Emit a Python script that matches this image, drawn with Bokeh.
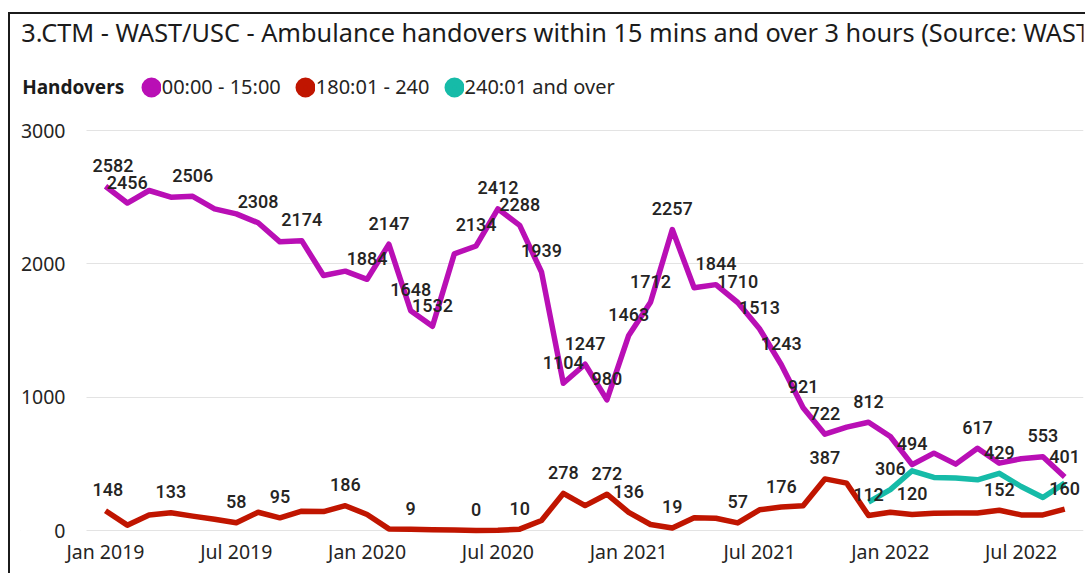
from bokeh.plotting import figure
from bokeh.models import (Range1d, FixedTicker, Legend, LegendItem, ColumnDataSource,
                          Label, BoxAnnotation)
from bokeh.embed import file_html
from bokeh.resources import INLINE
from bokeh.core.properties import value

NaN = float("nan")

# ---- data -------------------------------------------------------------
month_index = list(range(45))  # Jan 2019 .. Sep 2022

tick_positions = [0, 6, 12, 18, 24, 30, 36, 42]
tick_labels = ["Jan 2019", "Jul 2019", "Jan 2020", "Jul 2020",
               "Jan 2021", "Jul 2021", "Jan 2022", "Jul 2022"]
y_ticks = [0, 1000, 2000, 3000]

series_names = ["00:00 - 15:00", "180:01 - 240", "240:01 and over"]

within_15 = [2582, 2456, 2550, 2500, 2506, 2412, 2375, 2308, 2165, 2174,
             1912, 1945, 1884, 2147, 1648, 1532, 2075, 2134, 2412, 2288,
             1939, 1104, 1247, 980, 1463, 1712, 2257, 1820, 1844, 1710,
             1513, 1243, 921, 722, 775, 812, 705, 494, 580, 498,
             617, 505, 538, 553, 401]

from_180_to_240 = [148, 40, 117, 133, 108, 85, 58, 137, 95, 145,
                   142, 186, 120, 12, 9, 5, 3, 0, 2, 10,
                   75, 278, 187, 272, 136, 45, 19, 95, 92, 57,
                   155, 176, 185, 387, 355, 112, 137, 120, 130, 132,
                   132, 152, 117, 117, 160]

over_240 = [NaN] * 35 + [213, 306, 448, 398, 393, 380, 429, 330, 248, 355]

labelled_within_15 = [0, 1, 4, 7, 9, 12, 13, 14, 15, 17, 18, 19, 20, 21, 22,
                      23, 24, 25, 26, 28, 29, 30, 31, 32, 33, 35, 37, 40, 43, 44]
labelled_180_240 = [0, 3, 6, 8, 11, 14, 17, 19, 21, 23, 24, 26, 29, 31, 33,
                    35, 37, 41, 44]
labelled_over_240 = [36, 41]

title_text = "3.CTM - WAST/USC - Ambulance handovers within 15 mins and over 3 hours (Source: WAST)"
legend_title = "Handovers"

colors = ["#B90FB5", "#C01500", "#16BBA8"]
text_color = "#252423"

# ---- figure -----------------------------------------------------------
X0, X1 = -3.899, 44.862
W, H = 1077, 561
BL, BR = 10, 4
p = figure(width=W, height=H, output_backend="svg", toolbar_location=None,
           x_range=Range1d(X0, X1), y_range=Range1d(-45, 3870),
           min_border_left=BL, min_border_right=BR, min_border_top=0,
           min_border_bottom=39, title=None)
p.styles = {"border-top": "2px solid #1b1b1b", "border-left": "2px solid #1b1b1b",
            "position": "relative", "top": "12px", "left": "8px"}
p.outline_line_color = None
p.background_fill_color = "white"
p.border_fill_color = "white"
# a range far away from the data, used only by the legend swatch renderers
p.extra_y_ranges = {"swatch": Range1d(-200000, -100000)}

p.xgrid.visible = False
p.ygrid.grid_line_color = "#E3E3E3"
p.ygrid.grid_line_width = 1.2
# keep the gridlines clear of the tick-label column, as in the original
p.add_layout(BoxAnnotation(left=0, right=66, left_units="screen", right_units="screen",
                           fill_color="white", fill_alpha=1, line_color=None,
                           level="underlay"))

p.xaxis.ticker = FixedTicker(ticks=tick_positions)
p.xaxis.major_label_overrides = {t: l for t, l in zip(tick_positions, tick_labels)}
p.yaxis.ticker = FixedTicker(ticks=y_ticks)
for ax in (p.xaxis, p.yaxis):
    ax.axis_line_color = None
    ax.major_tick_line_color = None
    ax.minor_tick_line_color = None
    ax.major_tick_in = 0
    ax.major_tick_out = 0
    ax.minor_tick_out = 0
    ax.major_label_text_font = "Noto Sans"
    ax.major_label_text_font_size = "19.5px"
    ax.major_label_text_color = text_color
p.xaxis.major_label_standoff = 1
p.yaxis.major_label_standoff = -45

all_series = [within_15, from_180_to_240, over_240]
all_labelled = [labelled_within_15, labelled_180_240, labelled_over_240]

for vals, col in zip(all_series, colors):
    src = ColumnDataSource(dict(x=month_index, y=vals))
    p.line(x="x", y="y", source=src, line_color=col, line_width=5.5, line_join="round")

# data labels; like the original, labels are kept clear of the left edge of the plot area
px_per_x = (W - BL - BR) / (X1 - X0)
label_min_left = 72   # px from the frame's left edge
for vals, idx in zip(all_series, all_labelled):
    texts = [str(int(vals[i])) for i in idx]
    xoff = []
    for i, t in zip(idx, texts):
        left = (month_index[i] - X0) * px_per_x - 10.2 * len(t) / 2
        xoff.append(max(0.0, label_min_left - left))
    lsrc = ColumnDataSource(dict(x=[month_index[i] for i in idx],
                                 y=[vals[i] for i in idx], t=texts, dx=xoff))
    p.text(x="x", y="y", text="t", source=lsrc, text_font=value("Roboto Medium, Roboto"),
           text_font_size="18px", text_color=text_color, text_align="center",
           text_baseline="middle", y_offset=-21, x_offset="dx")

# ---- title & legend ---------------------------------------------------
p.add_layout(Label(x=0.7, y=505, x_units="screen", y_units="screen", text=title_text,
                   text_font="Noto Sans", text_font_size="25.3px", text_color="#1b1b1b",
                   text_baseline="middle", text_align="left"))
p.add_layout(Label(x=1.7, y=449.3, x_units="screen", y_units="screen", text=legend_title,
                   text_font="Noto Sans", text_font_size="19px", text_font_style="bold",
                   text_color="#1b1b1b", text_baseline="middle", text_align="left"))

# circle markers (drawn off-screen on the swatch range) give the round legend swatches;
# a thick outline in the same colour makes the small legend marker a 20px disc
leg_renderers = []
for vals, col in zip(all_series, colors):
    src = ColumnDataSource(dict(x=month_index, y=vals))
    leg_renderers.append(p.scatter(x="x", y="y", source=src, y_range_name="swatch",
                                   marker="circle", size=8, fill_color=col,
                                   line_color=col, line_width=12))
legend = Legend(items=[LegendItem(label=n, renderers=[r]) for n, r in zip(series_names, leg_renderers)],
                orientation="horizontal", location=(120.7, 435.8),
                glyph_width=20, glyph_height=24, label_height=24, label_standoff=1,
                spacing=14, padding=0, margin=0, border_line_color=None,
                background_fill_alpha=0, label_text_font="Noto Sans",
                label_text_font_size="20px", label_text_color=text_color,
                label_text_baseline="middle")
p.add_layout(legend, "center")

open("out.html", "w").write(file_html(p, INLINE))
